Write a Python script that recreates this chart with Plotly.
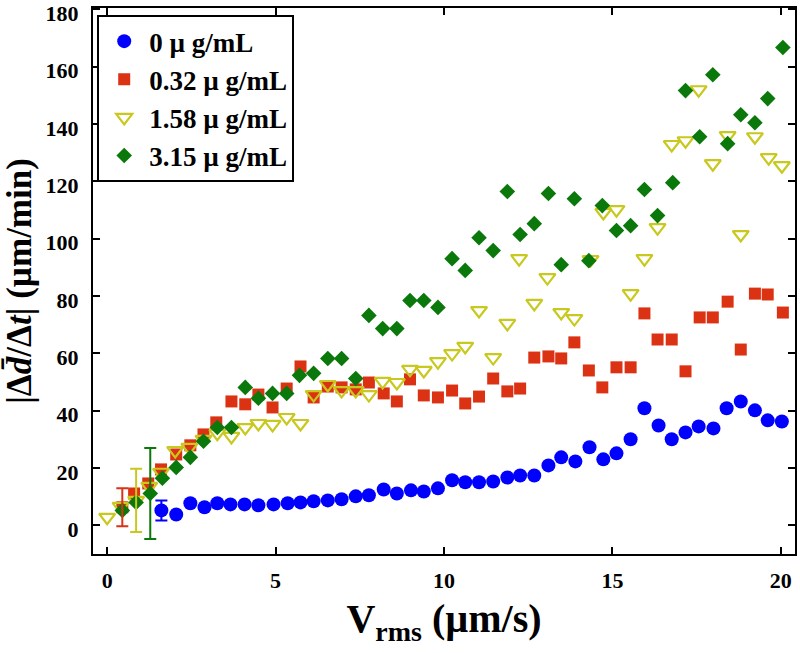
import plotly.graph_objects as go

# ---- data ----
series_names = ["0 µ g/mL", "0.32 µ g/mL", "1.58 µ g/mL", "3.15 µ g/mL"]

blue_x = [1.61, 2.05, 2.47, 2.89, 3.27, 3.66, 4.08, 4.49, 4.94, 5.36, 5.74, 6.13, 6.55, 6.96,
          7.38, 7.77, 8.21, 8.6, 9.02, 9.4, 9.82, 10.24, 10.63, 11.04, 11.46, 11.88, 12.26,
          12.68, 13.1, 13.48, 13.9, 14.32, 14.73, 15.12, 15.54, 15.95, 16.37, 16.76, 17.17,
          17.56, 18.0, 18.39, 18.81, 19.23, 19.61, 20.03]
blue_y = [5.2, 3.8, 7.7, 6.3, 7.7, 7.3, 7.3, 7.0, 7.3, 7.7, 8.0, 8.4, 8.7, 9.1,
          10.1, 10.5, 12.5, 11.1, 12.2, 11.8, 12.9, 15.7, 15.0, 15.0, 15.3, 16.7, 17.4,
          17.4, 20.9, 23.7, 22.3, 27.2, 23.0, 25.1, 30.0, 40.8, 34.8, 30.0, 32.4,
          34.5, 33.8, 40.8, 43.2, 40.1, 36.6, 36.2]

red_x = [0.45, 0.8, 1.22, 1.6, 2.05, 2.47, 2.86, 3.24, 3.69, 4.1, 4.49, 4.91, 5.33, 5.74,
         6.13, 6.55, 6.96, 7.38, 7.77, 8.21, 8.6, 8.99, 9.4, 9.82, 10.24, 10.63, 11.04,
         11.46, 11.88, 12.26, 12.68, 13.1, 13.48, 13.87, 14.3, 14.7, 15.12, 15.54, 15.95,
         16.34, 16.76, 17.17, 17.59, 17.98, 18.42, 18.81, 19.23, 19.61, 20.06]
red_y = [6.3, 11.1, 14.6, 19.5, 24.7, 27.9, 31.7, 35.9, 43.2, 42.2, 45.6, 41.1, 47.7, 55.4,
         44.6, 48.4, 48.1, 47.4, 49.8, 46.0, 43.2, 50.9, 45.3, 44.6, 47.0, 42.5, 44.9,
         51.2, 46.7, 47.7, 58.5, 58.9, 58.2, 63.8, 54.0, 48.1, 55.1, 55.1, 73.9,
         64.8, 64.8, 53.7, 72.5, 72.5, 78.0, 61.3, 80.8, 80.5, 74.2]

yellow_x = [0.0, 0.4, 0.86, 1.25, 1.6, 2.02, 2.44, 2.86, 3.27, 3.69, 4.1, 4.49, 4.91, 5.33,
            5.74, 6.13, 6.55, 6.96, 7.38, 7.77, 8.18, 8.6, 8.99, 9.4, 9.82, 10.24, 10.63,
            11.04, 11.46, 11.88, 12.23, 12.68, 13.07, 13.48, 13.87, 14.35, 14.73, 15.12,
            15.54, 15.95, 16.34, 16.76, 17.17, 17.56, 17.98, 18.42, 18.81, 19.23, 19.64, 20.03]
yellow_y = [2.8, 6.6, 8.7, 13.6, 18.5, 26.1, 27.2, 30.0, 32.1, 31.0, 34.1, 35.5, 35.2, 37.6,
            35.5, 45.6, 49.1, 47.0, 47.0, 45.6, 50.2, 49.8, 54.4, 54.0, 57.1, 59.9, 62.4,
            74.9, 58.5, 70.4, 93.0, 77.4, 86.4, 74.2, 72.1, 92.7, 109.1, 110.1,
            80.8, 93.0, 103.8, 132.8, 134.1, 151.9, 126.1, 135.9, 101.4, 135.5, 128.2, 125.4]

green_x = [0.45, 0.86, 1.28, 1.64, 2.05, 2.47, 2.86, 3.27, 3.69, 4.1, 4.49, 4.91, 5.33, 5.71,
           6.13, 6.55, 6.96, 7.38, 7.77, 8.18, 8.6, 8.99, 9.4, 9.82, 10.24, 10.63, 11.04,
           11.46, 11.88, 12.26, 12.68, 13.1, 13.48, 13.87, 14.3, 14.7, 15.12, 15.54, 15.95,
           16.34, 16.79, 17.17, 17.59, 17.98, 18.42, 18.81, 19.23, 19.61, 20.06]
green_y = [5.2, 8.0, 11.1, 16.4, 20.2, 23.7, 29.3, 34.1, 34.1, 48.1, 44.3, 46.0, 46.0, 52.3,
           53.0, 58.2, 58.2, 51.2, 73.2, 68.6, 68.6, 78.4, 78.4, 76.0, 93.0, 88.9, 100.3,
           95.8, 116.4, 101.4, 105.2, 115.7, 90.9, 113.9, 92.3, 111.5, 102.8, 104.5, 117.1,
           108.0, 119.5, 151.6, 135.5, 157.1, 133.1, 143.2, 140.4, 148.8, 166.6]

# one error bar per series (x, y, half-length)
err_x = [1.61, 0.45, 0.86, 1.28]
err_y = [5.2, 6.3, 8.7, 11.1]
err_half = [3.5, 6.6, 11.0, 15.9]

x_ticks = [0, 5, 10, 15, 20]
y_ticks = [0, 20, 40, 60, 80, 100, 120, 140, 160, 180]

# ---- styles ----
colors = ["#0000FF", "#DC3214", "#C8C81E", "#0A780A"]
symbols = ["circle", "square", "triangle-down-open", "diamond"]
sizes = [14, 12, 14, 12]
xs = [blue_x, red_x, yellow_x, green_x]
ys = [blue_y, red_y, yellow_y, green_y]

fig = go.Figure()
for i in range(4):
    fig.add_trace(go.Scatter(
        x=xs[i], y=ys[i], mode="markers", name=series_names[i],
        legendgroup=str(i),
        marker=dict(symbol=symbols[i], size=sizes[i], color=colors[i],
                    line=dict(width=2.2 if i == 2 else 0, color=colors[i])),
    ))
for i in range(4):
    fig.add_trace(go.Scatter(
        x=[err_x[i]], y=[err_y[i]], mode="markers", showlegend=False,
        marker=dict(size=1, color="rgba(0,0,0,0)"),
        error_y=dict(type="data", array=[err_half[i]], color=colors[i],
                     thickness=2, width=6, visible=True),
        hoverinfo="skip",
    ))

serif = "Liberation Serif, Times New Roman, serif"
axis_common = dict(
    showline=True, linecolor="black", linewidth=2, mirror="ticks",
    ticks="inside", ticklen=7, tickwidth=2, tickcolor="black",
    showgrid=False, zeroline=False, automargin=False,
    ticklabeloverflow="allow",
    tickfont=dict(family=serif, size=22, color="black", weight="bold"),
)

fig.update_layout(
    width=800, height=653,
    margin=dict(l=93, r=5, t=8, b=99),
    plot_bgcolor="white", paper_bgcolor="white",
    showlegend=True,
    legend=dict(
        x=0.006, y=0.987, xanchor="left", yanchor="top",
        bgcolor="white", bordercolor="black", borderwidth=2,
        font=dict(family=serif, size=27, color="black", weight="bold"),
        tracegroupgap=0, itemwidth=40,
    ),
    xaxis=dict(range=[-0.42, 20.42], tickvals=x_ticks, ticklabelstandoff=6,
               title=dict(text="V<sub>rms</sub> (µm/s)", standoff=12,
                          font=dict(family=serif, size=40, color="black", weight="bold")),
               **axis_common),
    yaxis=dict(range=[-10, 180.4], tickvals=y_ticks, ticklabelstandoff=8,
               ticklabelshift=4,
               title=dict(text="|Δ<i>d\u0304</i>/Δ<i>t</i>| (µm/min)", standoff=10,
                          font=dict(family=serif, size=35, color="black", weight="bold")),
               **axis_common),
)

fig.write_html("out.html", config={"displayModeBar": False},
               post_script="document.body.style.margin='0px';document.body.style.overflow='hidden';")
